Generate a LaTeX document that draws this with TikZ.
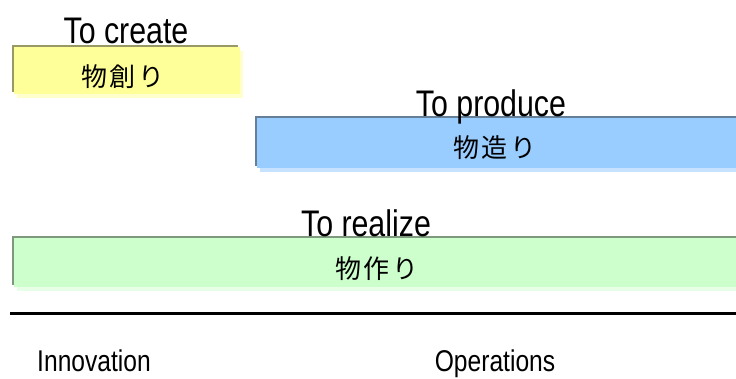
\documentclass[tikz,border=0pt]{standalone}
\usepackage{fontspec}
\usetikzlibrary{shadows}
\newfontfamily\narrowsans[FakeStretch=0.82]{Liberation Sans}
\newfontfamily\jpfont[LetterSpace=10]{Noto Sans CJK JP}

\definecolor{ylwFill}{HTML}{FFFF99}
\definecolor{ylwEdge}{HTML}{999966}
\definecolor{ylwShade}{HTML}{FFFFCC}
\definecolor{bluFill}{HTML}{99CCFF}
\definecolor{bluEdge}{HTML}{667F99}
\definecolor{bluShade}{HTML}{C6E2FF}
\definecolor{grnFill}{HTML}{CCFFCC}
\definecolor{grnEdge}{HTML}{7F997F}
\definecolor{grnShade}{HTML}{E6FFE6}

\begin{document}
\begin{tikzpicture}[x=1pt,y=-1pt,
  band/.style n args={3}{rectangle, draw=none, inner sep=0pt, anchor=north west,
    fill=#1,
    general shadow={fill=#3, shadow xshift=3pt, shadow yshift=-4pt},
    general shadow={fill=#2, shadow xshift=-2.5pt, shadow yshift=2.5pt}},
  title/.style={anchor=base, inner sep=0pt, font=\narrowsans\fontsize{37}{37}\selectfont},
  axislabel/.style={anchor=base, inner sep=0pt, font=\narrowsans\fontsize{30}{30}\selectfont},
  jp/.style={anchor=center, inner sep=0pt, font=\jpfont\fontsize{26}{26}\selectfont}]
  \useasboundingbox (0,0) rectangle (736,378);

  % the three bands
  \node[band={ylwFill}{ylwEdge}{ylwShade}, minimum width=226pt, minimum height=47pt] (create) at (14,47) {};
  \node[band={bluFill}{bluEdge}{bluShade}, minimum width=484pt, minimum height=50pt] (produce) at (257,118) {};
  \node[band={grnFill}{grnEdge}{grnShade}, minimum width=726pt, minimum height=49pt] (realize) at (14,238) {};

  % headings above each band
  \node[title] (createT) at (126,43) {To create};
  \node[title] (produceT) at (491,116) {To produce};
  \node[title] (realizeT) at (366,236) {To realize};

  % Japanese captions inside the bands
  \node[jp] (createJ) at (123,77) {物創り};
  \node[jp] (produceJ) at (495,148) {物造り};
  \node[jp] (realizeJ) at (377,268.5) {物作り};

  % baseline axis
  \coordinate (axisL) at (10,313);
  \coordinate (axisR) at (737,313);
  \draw[line width=3pt] (axisL) -- (axisR);

  \node[axislabel] (innov) at (94,371) {Innovation};
  \node[axislabel] (ops) at (495,371) {Operations};
\end{tikzpicture}
\end{document}
